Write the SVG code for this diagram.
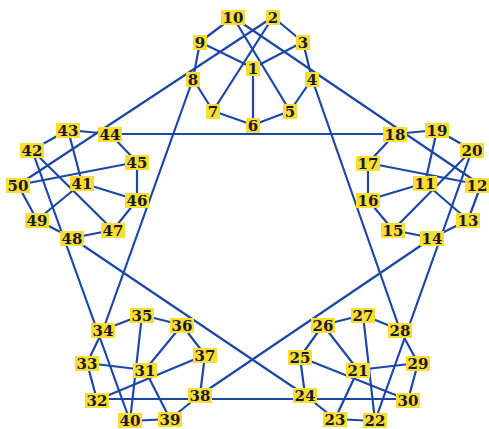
<svg xmlns="http://www.w3.org/2000/svg" width="489" height="429" viewBox="0 0 489 429">
<style>
.e{stroke:#1c47a6;stroke-width:2.2;fill:none;stroke-linecap:round}
.b{fill:#f8dd32}
.t{font-family:"DejaVu Serif","Liberation Serif",serif;font-weight:bold;font-size:15px;fill:#1a1a2a;text-anchor:middle}
</style>
<rect width="489" height="429" fill="#ffffff"/>
<g id="connectors" class="e">
<line x1="233" y1="17" x2="200" y2="42"/>
<line x1="233" y1="17" x2="290" y2="111"/>
<line x1="233" y1="17" x2="481" y2="185"/>
<line x1="273" y1="17" x2="303" y2="42"/>
<line x1="273" y1="17" x2="213" y2="111"/>
<line x1="273" y1="17" x2="18" y2="185"/>
<line x1="200" y1="42" x2="253" y2="68"/>
<line x1="200" y1="42" x2="193" y2="79"/>
<line x1="303" y1="42" x2="253" y2="68"/>
<line x1="303" y1="42" x2="312" y2="79"/>
<line x1="253" y1="68" x2="253" y2="125"/>
<line x1="193" y1="79" x2="213" y2="111"/>
<line x1="312" y1="79" x2="290" y2="111"/>
<line x1="213" y1="111" x2="253" y2="125"/>
<line x1="253" y1="125" x2="290" y2="111"/>
<line x1="193" y1="79" x2="103" y2="330"/>
<line x1="312" y1="79" x2="400" y2="330"/>
<line x1="395" y1="134" x2="437" y2="130"/>
<line x1="395" y1="134" x2="368" y2="163"/>
<line x1="110" y1="134" x2="395" y2="134"/>
<line x1="437" y1="130" x2="472" y2="150"/>
<line x1="437" y1="130" x2="425" y2="183"/>
<line x1="472" y1="150" x2="393" y2="230"/>
<line x1="472" y1="150" x2="375" y2="421"/>
<line x1="368" y1="163" x2="481" y2="185"/>
<line x1="368" y1="163" x2="368" y2="200"/>
<line x1="425" y1="183" x2="368" y2="200"/>
<line x1="425" y1="183" x2="468" y2="220"/>
<line x1="481" y1="185" x2="468" y2="220"/>
<line x1="468" y1="220" x2="432" y2="238"/>
<line x1="393" y1="230" x2="432" y2="238"/>
<line x1="368" y1="200" x2="393" y2="230"/>
<line x1="432" y1="238" x2="200" y2="395"/>
<line x1="68" y1="130" x2="110" y2="134"/>
<line x1="68" y1="130" x2="32" y2="150"/>
<line x1="68" y1="130" x2="82" y2="183"/>
<line x1="110" y1="134" x2="137" y2="162"/>
<line x1="32" y1="150" x2="113" y2="230"/>
<line x1="32" y1="150" x2="130" y2="421"/>
<line x1="137" y1="162" x2="18" y2="185"/>
<line x1="137" y1="162" x2="137" y2="200"/>
<line x1="82" y1="183" x2="137" y2="200"/>
<line x1="82" y1="183" x2="37" y2="220"/>
<line x1="18" y1="185" x2="37" y2="220"/>
<line x1="37" y1="220" x2="72" y2="238"/>
<line x1="72" y1="238" x2="113" y2="230"/>
<line x1="113" y1="230" x2="137" y2="200"/>
<line x1="72" y1="238" x2="305" y2="395"/>
<line x1="142" y1="315" x2="103" y2="330"/>
<line x1="142" y1="315" x2="182" y2="325"/>
<line x1="142" y1="315" x2="130" y2="421"/>
<line x1="103" y1="330" x2="87" y2="363"/>
<line x1="182" y1="325" x2="145" y2="370"/>
<line x1="182" y1="325" x2="205" y2="355"/>
<line x1="87" y1="363" x2="145" y2="370"/>
<line x1="87" y1="363" x2="97" y2="400"/>
<line x1="145" y1="370" x2="170" y2="419"/>
<line x1="205" y1="355" x2="97" y2="400"/>
<line x1="205" y1="355" x2="200" y2="395"/>
<line x1="200" y1="395" x2="170" y2="419"/>
<line x1="130" y1="421" x2="170" y2="419"/>
<line x1="97" y1="399" x2="408" y2="399"/>
<line x1="323" y1="325" x2="363" y2="315"/>
<line x1="363" y1="315" x2="400" y2="330"/>
<line x1="323" y1="325" x2="300" y2="357"/>
<line x1="323" y1="325" x2="358" y2="370"/>
<line x1="363" y1="315" x2="375" y2="421"/>
<line x1="400" y1="330" x2="418" y2="363"/>
<line x1="358" y1="370" x2="418" y2="363"/>
<line x1="300" y1="357" x2="305" y2="395"/>
<line x1="300" y1="357" x2="408" y2="400"/>
<line x1="418" y1="363" x2="408" y2="400"/>
<line x1="305" y1="395" x2="335" y2="419"/>
<line x1="335" y1="419" x2="375" y2="421"/>
<line x1="358" y1="370" x2="335" y2="419"/>
</g>
<g id="n1"><rect class="b" x="246" y="61" width="14" height="15"/><text class="t" x="253" y="74">1</text></g>
<g id="n2"><rect class="b" x="266" y="10" width="14" height="15"/><text class="t" x="273" y="23">2</text></g>
<g id="n3"><rect class="b" x="296" y="35" width="14" height="15"/><text class="t" x="303" y="48">3</text></g>
<g id="n4"><rect class="b" x="305" y="72" width="14" height="15"/><text class="t" x="312" y="85">4</text></g>
<g id="n5"><rect class="b" x="283" y="104" width="14" height="15"/><text class="t" x="290" y="117">5</text></g>
<g id="n6"><rect class="b" x="246" y="118" width="14" height="15"/><text class="t" x="253" y="131">6</text></g>
<g id="n7"><rect class="b" x="206" y="104" width="14" height="15"/><text class="t" x="213" y="117">7</text></g>
<g id="n8"><rect class="b" x="186" y="72" width="14" height="15"/><text class="t" x="193" y="85">8</text></g>
<g id="n9"><rect class="b" x="193" y="35" width="14" height="15"/><text class="t" x="200" y="48">9</text></g>
<g id="n10"><rect class="b" x="221" y="10" width="24" height="15"/><text class="t" x="233" y="23">10</text></g>
<g id="n11"><rect class="b" x="413" y="176" width="24" height="15"/><text class="t" x="425" y="189">11</text></g>
<g id="n12"><rect class="b" x="465" y="178" width="24" height="15"/><text class="t" x="477" y="191">12</text></g>
<g id="n13"><rect class="b" x="456" y="213" width="24" height="15"/><text class="t" x="468" y="226">13</text></g>
<g id="n14"><rect class="b" x="420" y="231" width="24" height="15"/><text class="t" x="432" y="244">14</text></g>
<g id="n15"><rect class="b" x="381" y="223" width="24" height="15"/><text class="t" x="393" y="236">15</text></g>
<g id="n16"><rect class="b" x="356" y="193" width="24" height="15"/><text class="t" x="368" y="206">16</text></g>
<g id="n17"><rect class="b" x="356" y="156" width="24" height="15"/><text class="t" x="368" y="169">17</text></g>
<g id="n18"><rect class="b" x="383" y="127" width="24" height="15"/><text class="t" x="395" y="140">18</text></g>
<g id="n19"><rect class="b" x="425" y="123" width="24" height="15"/><text class="t" x="437" y="136">19</text></g>
<g id="n20"><rect class="b" x="460" y="143" width="24" height="15"/><text class="t" x="472" y="156">20</text></g>
<g id="n21"><rect class="b" x="346" y="363" width="24" height="15"/><text class="t" x="358" y="376">21</text></g>
<g id="n22"><rect class="b" x="363" y="413" width="24" height="15"/><text class="t" x="375" y="426">22</text></g>
<g id="n23"><rect class="b" x="323" y="412" width="24" height="15"/><text class="t" x="335" y="425">23</text></g>
<g id="n24"><rect class="b" x="293" y="388" width="24" height="15"/><text class="t" x="305" y="401">24</text></g>
<g id="n25"><rect class="b" x="288" y="350" width="24" height="15"/><text class="t" x="300" y="363">25</text></g>
<g id="n26"><rect class="b" x="311" y="318" width="24" height="15"/><text class="t" x="323" y="331">26</text></g>
<g id="n27"><rect class="b" x="351" y="308" width="24" height="15"/><text class="t" x="363" y="321">27</text></g>
<g id="n28"><rect class="b" x="388" y="323" width="24" height="15"/><text class="t" x="400" y="336">28</text></g>
<g id="n29"><rect class="b" x="406" y="356" width="24" height="15"/><text class="t" x="418" y="369">29</text></g>
<g id="n30"><rect class="b" x="396" y="393" width="24" height="15"/><text class="t" x="408" y="406">30</text></g>
<g id="n31"><rect class="b" x="133" y="363" width="24" height="15"/><text class="t" x="145" y="376">31</text></g>
<g id="n32"><rect class="b" x="85" y="393" width="24" height="15"/><text class="t" x="97" y="406">32</text></g>
<g id="n33"><rect class="b" x="75" y="356" width="24" height="15"/><text class="t" x="87" y="369">33</text></g>
<g id="n34"><rect class="b" x="91" y="323" width="24" height="15"/><text class="t" x="103" y="336">34</text></g>
<g id="n35"><rect class="b" x="130" y="308" width="24" height="15"/><text class="t" x="142" y="321">35</text></g>
<g id="n36"><rect class="b" x="170" y="318" width="24" height="15"/><text class="t" x="182" y="331">36</text></g>
<g id="n37"><rect class="b" x="193" y="348" width="24" height="15"/><text class="t" x="205" y="361">37</text></g>
<g id="n38"><rect class="b" x="188" y="388" width="24" height="15"/><text class="t" x="200" y="401">38</text></g>
<g id="n39"><rect class="b" x="158" y="412" width="24" height="15"/><text class="t" x="170" y="425">39</text></g>
<g id="n40"><rect class="b" x="118" y="413" width="24" height="15"/><text class="t" x="130" y="426">40</text></g>
<g id="n41"><rect class="b" x="70" y="176" width="24" height="15"/><text class="t" x="82" y="189">41</text></g>
<g id="n42"><rect class="b" x="20" y="143" width="24" height="15"/><text class="t" x="32" y="156">42</text></g>
<g id="n43"><rect class="b" x="56" y="123" width="24" height="15"/><text class="t" x="68" y="136">43</text></g>
<g id="n44"><rect class="b" x="98" y="127" width="24" height="15"/><text class="t" x="110" y="140">44</text></g>
<g id="n45"><rect class="b" x="125" y="155" width="24" height="15"/><text class="t" x="137" y="168">45</text></g>
<g id="n46"><rect class="b" x="125" y="193" width="24" height="15"/><text class="t" x="137" y="206">46</text></g>
<g id="n47"><rect class="b" x="101" y="223" width="24" height="15"/><text class="t" x="113" y="236">47</text></g>
<g id="n48"><rect class="b" x="60" y="231" width="24" height="15"/><text class="t" x="72" y="244">48</text></g>
<g id="n49"><rect class="b" x="25" y="213" width="24" height="15"/><text class="t" x="37" y="226">49</text></g>
<g id="n50"><rect class="b" x="6" y="178" width="24" height="15"/><text class="t" x="18" y="191">50</text></g>
</svg>
